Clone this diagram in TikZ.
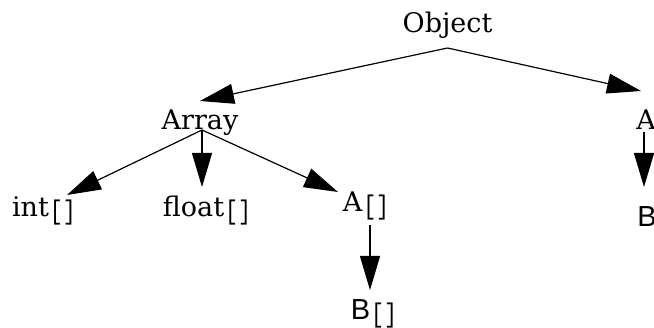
\documentclass[tikz,border=0pt]{standalone}
\usepackage{fontspec}
\setmainfont{DejaVu Serif}
\newfontfamily\brfont{Liberation Mono}
\newfontfamily\bfamfont{Liberation Sans}
\usetikzlibrary{arrows.meta,calc}
% array brackets and the sans capital B
\newcommand{\brk}{\hspace{1pt}\raisebox{-2.5pt}{\scalebox{0.8}[1]{\brfont\fontsize{27}{27}\selectfont[]}}}
\newcommand{\capB}{{\bfamfont\fontsize{29}{29}\selectfont B}}

\begin{document}
\begin{tikzpicture}[x=1pt,y=-1pt,
  lbl/.style={inner sep=0pt, anchor=base, font=\fontsize{27}{29}\selectfont},
  edge/.style={line width=1.2pt, -{Triangle[length=34pt,width=20pt]}}]
\useasboundingbox (0,0) rectangle (654,328);
\clip (0,0) rectangle (654,328);

% type names
\node[lbl] (obj)   at (447.5,33) {Object};
\node[lbl] (arr)   at (200,130)  {Array};
\node[lbl] (intA)  at (44,217)   {int\brk};
\node[lbl] (fltA)  at (207,217)  {float\brk};
\node[lbl] (aA)    at (366,212)  {A\brk};
\node[lbl] (bA)    at (374,320)  {\capB\brk};
\node[lbl] (aCls)  at (646,130)  {A};
\node[lbl] (bCls)  at (647,227)  {\capB};

% inheritance arrows
\draw[edge] ($(obj.base)+(0,15)$) -- ($(arr.base)+(0,-29)$);
\draw[edge] ($(obj.base)+(0,15)$) -- ($(aCls.base)+(-5,-39)$);
\draw[edge] ($(arr.base)+(2,0)$)  -- ($(intA.base)+(23,-22)$);
\draw[edge] ($(arr.base)+(2,0)$)  -- ($(fltA.base)+(-5,-30)$);
\draw[edge] ($(arr.base)+(2,0)$)  -- ($(aA.base)+(-28,-20)$);
\draw[edge] ($(aA.base)+(4,13)$)  -- ($(bA.base)+(-4,-30)$);
\draw[edge] ($(aCls.base)+(-2,2)$) -- ($(bCls.base)+(-3,-40)$);
\end{tikzpicture}
\end{document}
